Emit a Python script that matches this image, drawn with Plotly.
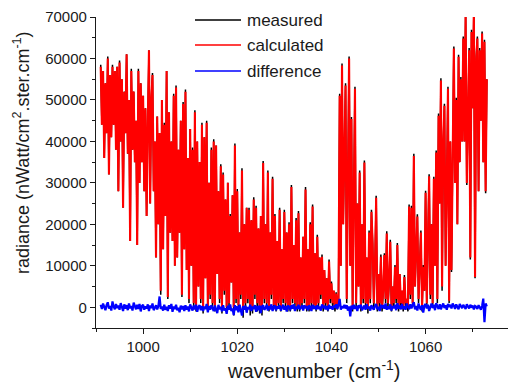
import plotly.graph_objects as go

# ---- data (radiance in units of 1000 nWatt/cm2.ster.cm-1), sampled every 0.25 cm-1 from 991 cm-1 ----
start_wavenumber = 991.0
step_wavenumber = 0.25

calculated_k = [
    58, 44, 57, 36,   54, 42, 60, 32,   56, 41, 58, 44,   57, 38, 58, 28,
    59, 40, 55, 24,   52, 42, 61, 37,   50, 16, 57, 38,   52, 35, 45, 15,
    57, 30, 54, 35,   51, 28, 48, 22,   44, 62, 25, 50,   56, 28, 40, 12,
    46, 20, 42, 4,    50, 14, 44, 22,   57, 2.5, 47, 18,  40, 16, 51, 10,
    53, 12, 38, 18,   45, 3, 49, 14,    52, 9, 36, 2,     43, 10, 38, 1,
    47, 0, 40, 5,     35, 2, 44, -0.5,  41, 7, 44.5, 0,   30, 3, 38, 1,
    40, 0, 39, 8,     28, 2, 34, -0.5,  32, 4, 26, 0,     30, 1, 22, 6,
    27, 0, 39, 2,     28, 0.5, 18, 3,   33, 0, 20, 1,     24, 2, 23.5, -0.5,
    21, 0, 26, 3,     24, 1, 19, 0,     22, 0, 34.8, 2,   20, 1, 32.5, 0,
    18, 3, 31, 0.5,   22, 0, 16, 1,     23.5, 0, 14, 2,   23, 1, 18, 0,
    20, 0, 29, 2,     15, 1, 21, 0,     22.7, 0, 12, 1,   17, 2, 28.4, 0,
    14, 0, 20, 1,     24.3, 0.5, 13, 0, 17, 1, 12, 3,     12.2, 0, 9, 1,
    7, 0, 11, 2,      5.8, 1, 4, 0,     3.3, 0.5, 2, 51,  10, 58.3, 20, 40,
    53.5, 2, 35, 60,  10, 45.4, 0, 30,  52.7, 1, 25, 5,   32.5, 0, 20, 2,
    34.9, 1, 12, 0,   18, 2, 23, 15.5,  1, 10, 26.4, 0,   8, 1, 12.2, 0,
    4, 12.6, 2, 17.8, 1, 6, 15.8, 0,    5, 1, 9.7, 2,     15, 0, 8, 1,
    4, 0, 7.3, 1,     2, 0, 24.3, 3,    24, 1, 36.5, 5,   12, 21.9, 2, 10,
    18, 0, 9.7, 4,    27.6, 1, 15, 31.6, 3, 20, 1, 31,    10, 37.3, 2, 46.2,
    25, 54.7, 5, 40,  48.6, 10, 30, 52.7, 1.6, 40, 9, 45, 62.4, 30, 50, 20,
    60.4, 35, 55, 40, 64.8, 40, 71, 30, 45, 62, 12, 66.4, 48, 72, 7.3, 60,
    64.8, 28, 62, 45, 66, 35, 64, 28,   55,
]

measured_k = [
    58.5, 44, 57, 36,   54, 42, 60.5, 32,   56, 41, 58.5, 44,   57, 38, 58, 28,
    59.5, 40, 55, 24,   52, 42, 61, 37,     50, 16, 57.5, 38,   52, 35, 45, 15,
    57.5, 30, 54, 35,   51, 28, 48, 22,     44, 62, 25, 50.5,   56.5, 28, 40, 12,
    46, 20, 42, 3,      50, 14, 44.5, 22,   57, 2, 47, 18,      40, 16, 51.5, 10,
    53.5, 12, 38, 18,   45, 2.5, 49.5, 14,  52.5, 9, 36, 1,     43, 10, 38.5, 0,
    47.5, -1, 40, 5,    35, 1, 44.5, -1.5,  41, 7, 45, -1,      30, 2, 38.5, 0,
    40.5, -1, 39, 8,    28, 1, 34.5, -1.5,  32.5, 3, 26, -1,    30, 0, 22.5, 6,
    27, -2, 39.5, 1,    28.5, -1, 18, 2,    33.5, -2.5, 20, 0,  24, 1, 24, -2,
    21, -1.5, 26.5, 2,  24.5, -1, 19, -1.5, 22, -2, 35.3, 1,    20, 0, 33, -1,
    18, 2, 31.5, -0.5,  22.5, -1, 16, 0,    24, -1, 14, 1,      23.5, 0, 18, -1,
    20.5, -1, 29.5, 1,  15, 0, 21.5, -1,    23.2, -1, 12, 0,    17, 1, 29, -1,
    14, -1, 20.5, 0,    24.8, -0.5, 13, -1, 17.5, 0, 12, 2,     12.7, -1, 9, 0,
    7, -1, 11.5, 1,     6.2, 0, 4, -1,      3.6, -0.5, 2, 51.5, 10, 58.8, 20, 40,
    54, 1, 35, 60.5,    10, 45.9, -1, 30,   53.2, 0, 25, 5,     33, -1, 20, 1,
    35.4, 0, 12, -1.5,  18.5, 1, 23.5, 15.5, 0, 10, 26.9, -1,   8, 0, 12.7, -1,
    4, 13, 1, 18.3,     0, 6, 16.3, -1,     5, 0, 10.2, 1,      15.5, -1, 8, 0,
    4, -1, 7.8, 0,      2, -1, 24.8, 2,     24.5, 0, 37, 5,     12, 22.4, 1, 10,
    18.5, -1, 10.2, 4,  28.1, 0, 15, 32.1,  2, 20, 0, 31.5,     10, 37.8, 1, 46.7,
    25, 55.2, 4, 40,    49.1, 10, 30, 53.2, 1, 40, 8.5, 45.5,   62.9, 30, 50.5, 20,
    60.9, 35, 55.5, 40, 65.3, 40, 71, 29.5, 45, 62.5, 11.5, 66.9, 48, 72, 7, 60.5,
    65.3, 28, 62.5, 45, 66.5, 35, 64.5, 27.5, 55,
]

difference_k = [
    0.6, -0.4, 0.9, 0.1, -0.7, 0.5, 1.2, -0.3,
    0.3, -0.8, 1.4, 0.2, -0.5, 0.8, -0.2, 0.4,
    -0.6, 1.0, 0.1, -0.9, 0.7, -0.3, 0.5, -0.7,
    0.9, -0.2, 0.3, -0.8, 1.1, 0.0, -0.5, 0.6,
    -0.4, 0.8, -1.0, 0.3, 0.6, -0.6, 0.2, -0.3,
    0.7, -0.9, 0.4, -0.2, 0.9, -0.7, 0.1, 0.5,
    -0.5, 0.3, 2.6, -0.4, 0.2, -0.8, 0.6, -0.6,
    0.1, -0.9, 0.5, -0.3, 0.8, -1.1, 0.2, -0.4,
    0.6, -0.7, -0.1, -1.2, 0.4, -0.5, 0.3, -0.9,
    0.5, -0.6, 0.2, -1.0, 0.7, -0.3, -0.8, 0.4,
    -0.5, 0.6, -1.1, 0.1, 0.5, -0.7, 0.3, -0.9,
    0.2, -0.4, 0.8, -1.2, 0.3, -0.6, 0.5, -0.2,
    -0.9, 0.4, -0.3, -1.4, 0.6, -0.5, 0.1, -1.0,
    0.5, -0.8, -0.2, -1.6, 0.4, -0.6, 0.7, -0.9,
    -0.3, -1.9, 0.5, -0.7, 0.2, -1.2, 0.6, -0.4,
    -2.0, 0.3, -0.6, 0.4, -1.3, 0.1, -0.5, 0.6,
    -0.9, 0.2, -0.4, 0.5, -1.1, 0.3, -0.7, 0.4,
    -1.4, 0.2, 0.5, -0.6, -0.2, 0.6, -0.8, 0.3,
    -0.5, 0.7, -0.9, 0.1, 0.4, -0.7, 0.2, -0.3,
    0.5, -0.8, -0.2, 0.6, -0.6, 0.3, -1.0, 0.4,
    0.1, -0.7, 0.5, -0.3, 0.7, -0.9, 0.2, -0.4,
    0.6, -0.5, -0.1, 0.4, -0.8, 0.5, -0.2, 0.3,
    -0.7, 0.4, 0.1, -0.9, 0.6, -0.3, 0.3, -0.6,
    0.5, -0.4, 0.2, -0.8, 0.7, -0.2, 0.4, -0.5,
    0.3, -0.7, 0.6, -0.3, 0.2, -0.6, 0.4, -0.1,
    0.7, -0.4, 0.5, 2.0, -0.6, 0.3, -0.2, 0.6,
    -0.3, 0.5, -0.8, 0.2, -2.2, 0.4, -0.5, 0.6,
    -0.4, 0.3, -0.9, 0.5, -0.2, 0.6, -0.7, 0.1,
    0.4, -0.6, 0.7, -0.3, 0.2, -0.8, 0.5, -0.1,
    -0.6, 0.3, 0.8, -0.5, 0.1, -0.9, 0.6, -0.2,
    0.5, -0.3, 0.9, -0.6, 0.2, -0.4, 0.7, -0.8,
    0.3, -0.2, 0.6, -0.7, 1.0, -0.3, 0.4, -0.5,
    0.8, -0.4, 0.2, -0.6, 0.9, 0.1, -0.5, 0.7,
    -0.3, 0.6, 1.2, -0.5, 0.3, -0.8, 0.9, 0.0,
    -0.6, 0.5, -1.3, 0.4, 0.8, -0.3, 0.6, -0.9,
    0.4, 0.9, -0.2, 0.6, -0.7, 1.0, 0.2, -0.4,
    0.7, -0.5, 0.3, 0.9, -0.2, 0.5, -0.6, 0.8,
    0.1, 0.6, -0.3, 0.9, 0.4, -0.4, 0.7, 0.2,
    -0.5, 0.8, 0.3, -0.2, 0.6, 0.1, -0.4, 0.7,
    0.2, -0.3, 0.6, -0.1, 0.4, -0.5, 0.3, 0.1,
    -0.4, 0.5, 0.0, -0.6, 0.3, 2.1, -3.6, 0.9,
    0.2,
]

series_names = ["measured", "calculated", "difference"]
series_colors = ["#000000", "#ff0000", "#0000ff"]
x_tick_values = [1000, 1020, 1040, 1060]
y_tick_values = [0, 10000, 20000, 30000, 40000, 50000, 60000, 70000]


def grid(values):
    return [start_wavenumber + step_wavenumber * i for i in range(len(values))]


def scale(values):
    return [v * 1000 for v in values]


fig = go.Figure()
for vals, name, color, w in [
    (measured_k, series_names[0], series_colors[0], 1.5),
    (calculated_k, series_names[1], series_colors[1], 2.1),
    (difference_k, series_names[2], series_colors[2], 2.2),
]:
    fig.add_trace(go.Scatter(x=grid(vals), y=scale(vals), mode="lines", name=name,
                             line=dict(color=color, width=w), showlegend=False))

font_family = "Liberation Sans, Arial, sans-serif"
axis_color = "#1a1a1a"

fig.update_layout(
    width=508, height=383,
    margin=dict(l=96, r=0, t=17, b=55),
    paper_bgcolor="white", plot_bgcolor="white",
    font=dict(family=font_family, color=axis_color, size=15),
    xaxis=dict(range=[990, 1077.5], tickvals=x_tick_values, ticks="outside", ticklen=5,
               tickwidth=1.2, tickcolor=axis_color, showline=True, linecolor=axis_color,
               linewidth=1.3, showgrid=False, zeroline=False,
               minor=dict(dtick=10, ticks="outside", ticklen=3, tickcolor=axis_color, showgrid=False),
               tickfont=dict(size=15)),
    yaxis=dict(range=[-5000, 70000], tickvals=y_tick_values, ticks="outside", ticklen=5,
               tickwidth=1.2, tickcolor=axis_color, showline=True, linecolor=axis_color,
               linewidth=1.3, showgrid=False, zeroline=False,
               minor=dict(dtick=5000, ticks="outside", ticklen=3, tickcolor=axis_color, showgrid=False),
               tickfont=dict(size=15), tickformat="d"),
)

# axis titles
fig.add_annotation(text="radiance (nWatt/cm<sup>2</sup>.ster.cm<sup>-1</sup>)", textangle=-90,
                   xref="paper", yref="paper", x=(21 - 96) / 412, y=(328 - 153) / 311,
                   xanchor="center", yanchor="middle", showarrow=False,
                   font=dict(size=18, color=axis_color))
fig.add_annotation(text="wavenumber (cm<sup>-1</sup>)",
                   xref="paper", yref="paper", x=(314 - 96) / 412, y=(328 - 369) / 311,
                   xanchor="center", yanchor="middle", showarrow=False,
                   font=dict(size=20, color=axis_color))

# legend drawn by hand
legend_rows_px = [20, 45, 71]
for name, color, ypx in zip(series_names, series_colors, legend_rows_px):
    yp = (328 - ypx) / 311
    fig.add_shape(type="line", xref="paper", yref="paper",
                  x0=(195 - 96) / 412, x1=(241 - 96) / 412, y0=yp, y1=yp,
                  line=dict(color=color, width=1.3))
    fig.add_annotation(text=name, xref="paper", yref="paper", x=(245 - 96) / 412, y=yp,
                       xanchor="left", yanchor="middle", showarrow=False,
                       font=dict(size=17, color=axis_color))

fig.write_html("out.html", config={"displayModeBar": False},
               post_script="document.body.style.margin='0';document.body.style.overflow='hidden';")
